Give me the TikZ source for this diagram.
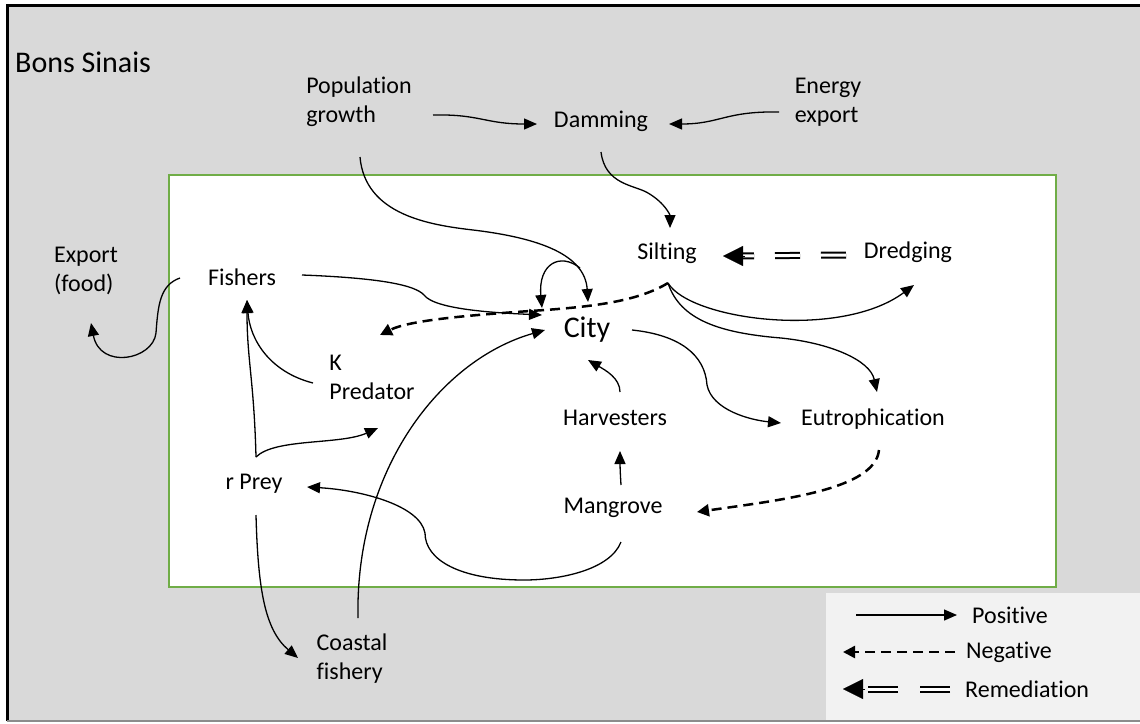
\documentclass[tikz,border=0pt]{standalone}
\usepackage{fontspec}
\setmainfont{Carlito}[Ligatures={NoCommon}]
\usetikzlibrary{arrows.meta,calc}
\definecolor{bg}{RGB}{217,217,217}
\definecolor{grn}{RGB}{112,173,71}
\definecolor{lg}{RGB}{242,242,242}
\begin{document}
\begin{tikzpicture}[x=1pt,y=-1pt,
  lbl/.style={inner sep=0pt, font=\fontsize{24}{29}\selectfont, align=left},
  big/.style={font=\fontsize{30}{36}\selectfont},
  posarr/.style={line width=1.3pt, -{Triangle[length=13pt,width=11pt]}},
  negarr/.style={line width=2.5pt, dash pattern=on 10pt off 6pt, -{Triangle[length=12pt,width=12pt]}},
  remarr/.style={double, double distance=3pt, line width=2pt, dash pattern=on 25pt off 21pt},
  remtip/.style={line width=0.1pt, -{Triangle[length=20pt,width=20pt]}},
]
\useasboundingbox (0,0) rectangle (1140,723);
\fill[white] (0,0) rectangle (1140,723);
\fill[bg] (7,5) rectangle (1140,721);
\draw[line width=3pt] (7,721) -- (7,5) -- (1140,5);
\draw[black!45, line width=1.5pt] (7,721) -- (1140,721);
\draw[grn, line width=2.5pt, fill=white] (169,175) rectangle (1056,587);
\fill[lg] (826,593) rectangle (1140,720);

% nodes
\node[lbl, big, anchor=west] (bons) at (15,62) {Bons Sinais};
\node[lbl] (pop) at (359,102) {Population\\growth};
\node[lbl] (damming) at (601,121) {Damming};
\node[lbl] (energy) at (828,102) {Energy\\export};
\node[lbl] (silting) at (667,253) {Silting};
\node[lbl] (dredging) at (908,252) {Dredging};
\node[lbl] (export) at (86,271) {Export\\(food)};
\node[lbl] (fishers) at (242,277) {Fishers};
\node[lbl, big] (city) at (587,330) {City};
\node[lbl] (kpred) at (372,377) {K\\Predator};
\node[lbl] (harv) at (615,418) {Harvesters};
\node[lbl] (eutro) at (873,419) {Eutrophication};
\node[lbl] (rprey) at (254,484) {r Prey};
\node[lbl] (mang) at (613,508) {Mangrove};
\node[lbl] (coastal) at (352,659) {Coastal\\fishery};
\node[lbl, anchor=west] (lpos) at (972,615) {Positive};
\node[lbl, anchor=west] (lneg) at (966,652) {Negative};
\node[lbl, anchor=west] (lrem) at (965,689) {Remediation};

% connectors
\draw[posarr] ([shift={(74,13)}]pop.center) .. controls (480,114) and (485,124) .. ([shift={(-64,3)}]damming.center);
\draw[posarr] ([shift={(-49,10)}]energy.center) .. controls (725,111) and (720,124) .. ([shift={(68,3)}]damming.center);
\draw[posarr] ([shift={(0,31)}]damming.center) .. controls (605,185) and (635,185) .. (648,193) .. controls (665,203) and (670,215) .. ([shift={(3,-25)}]silting.center);
\draw[posarr] ([shift={(1,55)}]pop.center) .. controls (365,215) and (430,225) .. (473,230) .. controls (540,238) and (585,255) .. ([shift={(1,-28)}]city.center);
\draw[posarr] ([shift={(-7,-62)}]city.center) .. controls (560,252) and (538,264) .. ([shift={(-45,-22)}]city.center);
\draw[posarr] ([shift={(60,-2)}]fishers.center) .. controls (380,278) and (415,285) .. (424,295) .. controls (435,310) and (500,313) .. ([shift={(-45,-15)}]city.center);
\draw[negarr] ([shift={(1,30)}]silting.center) .. controls (640,300) and (600,306) .. (545,310) .. controls (470,315) and (410,320) .. ([shift={(8,-42)}]kpred.center);
\draw[posarr] ([shift={(1,30)}]silting.center) .. controls (690,320) and (840,340) .. ([shift={(6,33)}]dredging.center);
\draw[posarr] ([shift={(1,30)}]silting.center) .. controls (680,320) and (720,333) .. (781,338) .. controls (830,343) and (870,360) .. ([shift={(4,-27)}]eutro.center);
\draw[remarr] ([shift={(-62,3)}]dredging.center) -- ([shift={(65,3)}]silting.center);
\draw[remtip] ([shift={(78,3)}]silting.center) -- ([shift={(56,3)}]silting.center);
\draw[posarr] ([shift={(45,0)}]city.center) .. controls (680,335) and (705,355) .. (707,385) .. controls (712,410) and (750,420) .. ([shift={(-92,4)}]eutro.center);
\draw[posarr] ([shift={(5,-26)}]harv.center) .. controls (620,378) and (605,370) .. ([shift={(1,30)}]city.center);
\draw[posarr] ([shift={(8,-23)}]mang.center) .. controls (620,470) and (620,462) .. ([shift={(5,33)}]harv.center);
\draw[negarr] ([shift={(6,31)}]eutro.center) .. controls (875,490) and (780,500) .. ([shift={(84,4)}]mang.center);
\draw[posarr] ([shift={(8,34)}]mang.center) .. controls (610,570) and (560,580) .. (524,580) .. controls (460,580) and (425,560) .. (425,533) .. controls (420,505) and (360,490) .. ([shift={(53,3)}]rprey.center);
\draw[posarr] ([shift={(6,-41)}]coastal.center) .. controls (355,470) and (440,360) .. ([shift={(-42,0)}]city.center);
\draw[posarr] ([shift={(2,31)}]rprey.center) .. controls (258,590) and (265,630) .. ([shift={(-54,-1)}]coastal.center);
\draw[posarr] ([shift={(2,-27)}]rprey.center) .. controls (254,380) and (247,360) .. ([shift={(5,23)}]fishers.center);
\draw[posarr] ([shift={(2,-27)}]rprey.center) .. controls (275,438) and (340,445) .. ([shift={(6,51)}]kpred.center);
\draw[posarr] ([shift={(-59,6)}]kpred.center) .. controls (270,372) and (250,340) .. ([shift={(5,23)}]fishers.center);
\draw[posarr] ([shift={(-62,1)}]fishers.center) .. controls (160,285) and (158,305) .. (156,333) .. controls (153,360) and (100,370) .. ([shift={(5,52)}]export.center);

% legend
\draw[posarr] ([xshift=-116pt]lpos.west) -- ([xshift=-15pt]lpos.west);
\draw[negarr] ([xshift=-11pt]lneg.west) -- ([xshift=-123pt]lneg.west);
\draw[remarr, dash pattern=on 30pt off 22pt] ([xshift=-15pt]lrem.west) -- ([xshift=-99pt]lrem.west);
\draw[remtip] ([xshift=-100pt]lrem.west) -- ([xshift=-122pt]lrem.west);
\end{tikzpicture}
\end{document}
